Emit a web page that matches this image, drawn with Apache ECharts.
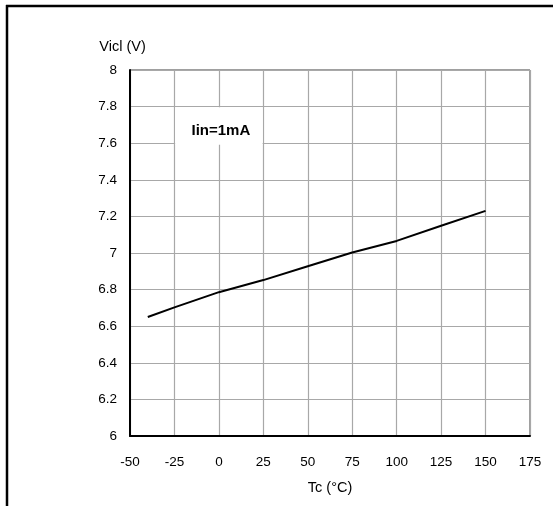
<!DOCTYPE html>
<html>
<head>
<meta charset="utf-8">
<script src="https://cdn.jsdelivr.net/npm/echarts@6/dist/echarts.min.js"></script>
<style>
html,body{margin:0;padding:0;background:#fff;}
#chart{width:553px;height:506px;}
</style>
</head>
<body>
<div id="chart"></div>
<script>
var tempC = [-40, -25, 0, 25, 50, 75, 100, 125, 150];
var vicl = [6.65, 6.703, 6.786, 6.852, 6.928, 7.003, 7.066, 7.149, 7.23];
var annotationText = 'Iin=1mA';
var xAxisName = 'Tc (°C)';
var yAxisName = 'Vicl (V)';

var lineData = tempC.map(function (t, i) { return [t, vicl[i]]; });

var chart = echarts.init(document.getElementById('chart'), null, {renderer: 'canvas'});
var font = 'Liberation Sans, Arial, sans-serif';
chart.setOption({
  animation: false,
  backgroundColor: '#ffffff',
  graphic: [
    {type: 'line', shape: {x1: 6, y1: 6, x2: 553, y2: 6}, style: {stroke: '#000', lineWidth: 2.5}},
    {type: 'line', shape: {x1: 7, y1: 5, x2: 7, y2: 506}, style: {stroke: '#000', lineWidth: 2.5}}
  ],
  grid: {
    left: 130, right: 23, top: 70, bottom: 70,
    show: true, borderColor: '#404040', borderWidth: 1, backgroundColor: 'transparent'
  },
  xAxis: {
    type: 'value', min: -50, max: 175, interval: 25,
    name: xAxisName, nameLocation: 'middle', nameGap: 44,
    nameTextStyle: {fontFamily: font, fontSize: 14.5, color: '#000'},
    axisLine: {show: true, onZero: false, lineStyle: {color: '#000', width: 2}},
    axisTick: {show: false},
    axisLabel: {margin: 19, fontFamily: font, fontSize: 13.5, color: '#000'},
    splitLine: {show: true, lineStyle: {color: '#a8a8a8', width: 1.2}}
  },
  yAxis: {
    type: 'value', min: 6, max: 8, interval: 0.2,
    name: yAxisName, nameLocation: 'end', nameGap: 16,
    nameTextStyle: {fontFamily: font, fontSize: 14.5, color: '#000', align: 'center', padding: [0, 15, 0, 0]},
    axisLine: {show: true, onZero: false, lineStyle: {color: '#000', width: 2}},
    axisTick: {show: false},
    axisLabel: {margin: 13, fontFamily: font, fontSize: 13.5, color: '#000', padding: [4, 0, 0, 0]},
    splitLine: {show: true, lineStyle: {color: '#a8a8a8', width: 1.2}}
  },
  series: [{
    type: 'line',
    data: lineData,
    showSymbol: false,
    symbol: 'none',
    lineStyle: {color: '#000', width: 2},
    markArea: {
      silent: true,
      itemStyle: {color: '#ffffff', opacity: 1},
      label: {show: true, position: 'inside', offset: [2, 5], formatter: annotationText,
              fontFamily: font, fontSize: 15, fontWeight: 'bold', color: '#000'},
      data: [[{coord: [-24.6, 7.797]}, {coord: [24.6, 7.592]}]]
    }
  }]
});
</script>
</body>
</html>
